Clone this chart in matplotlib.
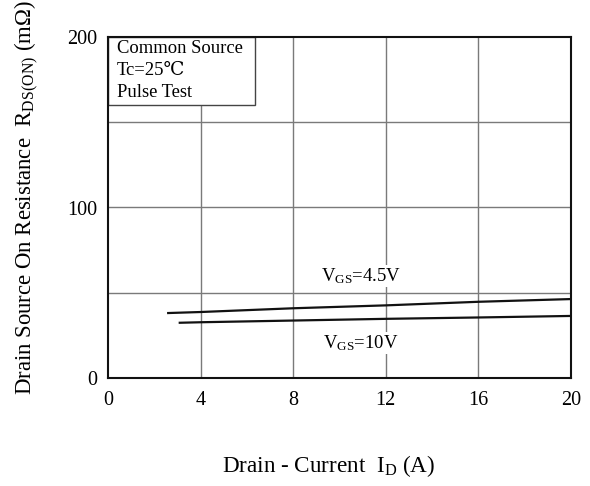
import matplotlib
matplotlib.use("Agg")
import matplotlib.pyplot as plt
from matplotlib.patches import Rectangle

plt.rcParams['font.family'] = ['Liberation Serif', 'DejaVu Serif', 'DejaVu Sans']
plt.rcParams['mathtext.fontset'] = 'custom'
plt.rcParams['mathtext.rm'] = 'Liberation Serif'
plt.rcParams['mathtext.it'] = 'Liberation Serif:italic'

# Data
id_45 = [2.6, 4, 8, 12, 16, 20]
r_45 = [38.1, 38.7, 40.9, 42.6, 44.7, 46.3]
id_10 = [3.1, 4, 8, 12, 16, 20]
r_10 = [32.4, 32.7, 33.7, 34.7, 35.5, 36.4]
xticks = [0, 4, 8, 12, 16, 20]
yticks = [0, 100, 200]
xgrid = [4, 8, 12, 16]
ygrid = [50, 100, 150]
legend_lines = ["Common Source", "Tc=25\u2103", "Pulse Test"]

fig = plt.figure(figsize=(5.9, 4.86), dpi=100)
ax = fig.add_axes([108/590, 1-378/486, (571-108)/590, (378-37)/486])

ax.set_xlim(0, 20)
ax.set_ylim(0, 200)
ax.set_xticks(xticks)
ax.set_yticks(yticks)
for gx in xgrid:
    ax.axvline(gx, color='#7a7a7a', lw=1.0, zorder=1)
for gy in ygrid:
    ax.axhline(gy, color='#7a7a7a', lw=1.0, zorder=1)
ax.tick_params(which='both', length=0)
ax.tick_params(axis='x', pad=9, labelsize=14.5)
ax.tick_params(axis='y', pad=8, labelsize=14.5)
for s in ax.spines.values():
    s.set_linewidth(1.5)
    s.set_color('#111111')
    s.set_zorder(5)

ax.plot(id_45, r_45, color='#111111', lw=1.6, zorder=3)
ax.plot(id_10, r_10, color='#111111', lw=1.6, zorder=3)

bbox = dict(facecolor='white', edgecolor='none', pad=1.0)
ax.text(10.93, 56.9, r'V$_{\mathrm{GS}}$=4.5V', ha='center', va='baseline',
        fontsize=13.5, bbox=bbox, zorder=4)
ax.text(10.93, 17.4, r'V$_{\mathrm{GS}}$=10V', ha='center', va='baseline',
        fontsize=13.5, bbox=bbox, zorder=4)

# condition box
bw = (255-108)/463
bh = (105-37)/341
ax.add_patch(Rectangle((0, 1-bh), bw, bh, transform=ax.transAxes,
                       facecolor='white', edgecolor='#444444', lw=1.0, zorder=4))
for txt, yy in zip(legend_lines, [0.9677, 0.9032, 0.8358]):
    ax.text(0.0194, yy, txt, transform=ax.transAxes, ha='left', va='center',
            fontsize=13.4, zorder=6)

fig.text(27/590, 1-198/486, 'Drain Source On Resistance  R$_{\\mathrm{DS(ON)}}$ (m\u03a9)',
         rotation=90, ha='center', va='center', fontsize=16.4)
fig.text(329/590, 13.5/486, 'Drain - Current  I$_{\\mathrm{D}}$ (A)',
         ha='center', va='baseline', fontsize=16.7)

fig.savefig('out.png', dpi=100)
